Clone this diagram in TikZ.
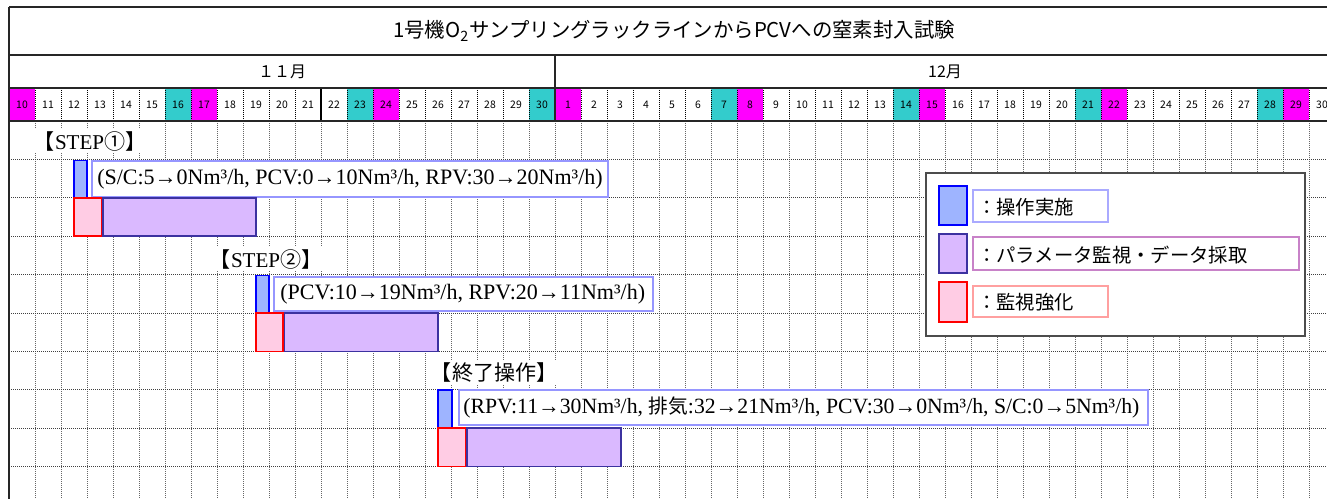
\documentclass[tikz,border=0pt]{standalone}
\usepackage{fontspec}
\setmainfont{Liberation Serif}
\newfontfamily\jp{Noto Sans CJK JP}
\newcommand\fsz[1]{\fontsize{#1}{#1}\selectfont}
\definecolor{wkmag}{RGB}{255,0,255}
\definecolor{wkcyan}{RGB}{51,204,204}
\definecolor{opfill}{RGB}{158,180,255}
\definecolor{opdraw}{RGB}{0,0,255}
\definecolor{monfill}{RGB}{218,185,255}
\definecolor{mondraw}{RGB}{60,50,160}
\definecolor{strfill}{RGB}{255,204,228}
\definecolor{strdraw}{RGB}{255,0,0}
\definecolor{tboxdraw}{RGB}{150,150,255}
\definecolor{lgblue}{RGB}{170,170,255}
\definecolor{lgpur}{RGB}{200,130,200}
\definecolor{lgred}{RGB}{255,160,160}
\begin{document}
\begin{tikzpicture}[x=0.75pt,y=-0.75pt,
  gridv/.style={draw=black!60, line width=0.65pt, dash pattern=on 0.75pt off 0.75pt},
  gridh/.style={draw=black!75, line width=0.65pt, dash pattern=on 0.75pt off 0.75pt},
  hline/.style={draw=black!85, line width=1.5pt},
  daysep/.style={draw=black, line width=0.6pt, dash pattern=on 0.75pt off 0.75pt},
  opbar/.style={fill=opfill, draw=opdraw, line width=1.1pt},
  monbar/.style={fill=monfill, draw=mondraw, line width=1.1pt},
  strbar/.style={fill=strfill, draw=strdraw, line width=1.1pt},
  tbox/.style={fill=white, draw=tboxdraw, line width=1.5pt},
  ptext/.style={inner sep=0pt, anchor=west, font=\fsz{16.5}},
  lbl/.style={fill=white, inner sep=2pt, anchor=west, font=\fsz{15.8}},
  daylbl/.style={inner sep=0pt, font=\jp\fsz{7.8}},
  lgbox/.style={fill=white, draw=black!70, line width=1.5pt},
  lgtext/.style={inner sep=0pt, anchor=west, font=\jp\fsz{14.5}}
]
\useasboundingbox (0,0) rectangle (1327,499);
\clip (0,0) rectangle (1327,499);
\fill[white] (0,0) rectangle (1327,499);

% body grid
\foreach \k in {1,...,51} \draw[gridv] (9+26*\k,121) -- (9+26*\k,499);
\foreach \k in {1,...,9} \draw[gridh] (9,121+38.4*\k) -- (1335,121+38.4*\k);

% weekend cells
\foreach \i/\c in {0/wkmag,6/wkcyan,7/wkmag,13/wkcyan,14/wkmag,20/wkcyan,21/wkmag,27/wkcyan,28/wkmag,34/wkcyan,35/wkmag,41/wkcyan,42/wkmag,48/wkcyan,49/wkmag}
  \fill[\c] (9+26*\i,88) rectangle (35+26*\i,121);

% day separators
\foreach \k in {1,...,11,13,14,...,20,22,23,...,50} \draw[daysep] (9+26*\k,88) -- (9+26*\k,121);
\draw[draw=black, line width=0.8pt] (321,88) -- (321,121);
\draw[hline] (555,55) -- (555,121);

% header lines
\draw[hline] (9,7) -- (1335,7);
\draw[hline] (9,55) -- (1335,55);
\draw[hline] (9,88) -- (1335,88);
\draw[hline] (9,121) -- (1335,121);
\draw[draw=black!85, line width=2pt] (9,7) -- (9,499);

% header texts
\node[font=\jp\fsz{15.3}, inner sep=0pt] (title) at (674,31) {1号機O\textsubscript{2}サンプリングラックラインからPCVへの窒素封入試験};
\node[font=\jp\fsz{12}, inner sep=0pt] (nov) at (282,72) {１１月};
\node[font=\jp\fsz{12}, inner sep=0pt] (dec) at (945,72) {12月};
\foreach \d in {10,...,30} \node[daylbl] (n\d) at (22+26*\d-260,104.5) {\d};
\foreach \d in {1,...,30} \node[daylbl] (d\d) at (22+26*\d+520,104.5) {\d};

% STEP 1
\node[lbl] (s1) at (31,141) {{\jp 【}STEP{\jp ①】}};
\draw[opbar] (74,160.5) rectangle (87,197.8);
\path[tbox] (92,161) rectangle (608,197);
\node[ptext] (t1) at (97,179) {(S/C:5→0Nm³/h, PCV:0→10Nm³/h, RPV:30→20Nm³/h)};
\draw[strbar] (74,197.8) rectangle (102,236.2);
\draw[monbar] (103,197.8) rectangle (256,236.2);

% STEP 2
\node[lbl] (s2) at (207,259) {{\jp 【}STEP{\jp ②】}};
\draw[opbar] (256,275.5) rectangle (269,313);
\path[tbox] (274,277) rectangle (653,311);
\node[ptext] (t2) at (280,294) {(PCV:10→19Nm³/h, RPV:20→11Nm³/h)};
\draw[strbar] (256,313) rectangle (283,351.4);
\draw[monbar] (284.5,313) rectangle (438,351.4);

% end operation
\node[lbl] (s3) at (428,372) {{\jp 【終了操作】}};
\draw[opbar] (438,389.8) rectangle (452,428.2);
\path[tbox] (459,390) rectangle (1148,425);
\node[ptext, font=\fsz{16.3}] (t3) at (463,407.5) {(RPV:11→30Nm³/h, {\jp\fsz{14.8}排気}:32→21Nm³/h, PCV:30→0Nm³/h, S/C:0→5Nm³/h)};
\draw[strbar] (438,428.2) rectangle (466,466.6);
\draw[monbar] (467,428.2) rectangle (621,466.6);

% legend
\path[lgbox] (926,173) rectangle (1305,336);
\draw[opbar] (939,186) rectangle (967,225);
\path[fill=white, draw=lgblue, line width=1.2pt] (973,190) rectangle (1108,222);
\node[lgtext] (l1) at (977,207) {：操作実施};
\draw[monbar] (939,234) rectangle (967,273);
\path[fill=white, draw=lgpur, line width=1.2pt] (973,237) rectangle (1299,270);
\node[lgtext] (l2) at (977,255) {：パラメータ監視・データ採取};
\draw[strbar] (939,282) rectangle (967,322);
\path[fill=white, draw=lgred, line width=1.2pt] (973,286) rectangle (1108,317);
\node[lgtext] (l3) at (977,302) {：監視強化};
\end{tikzpicture}
\end{document}
